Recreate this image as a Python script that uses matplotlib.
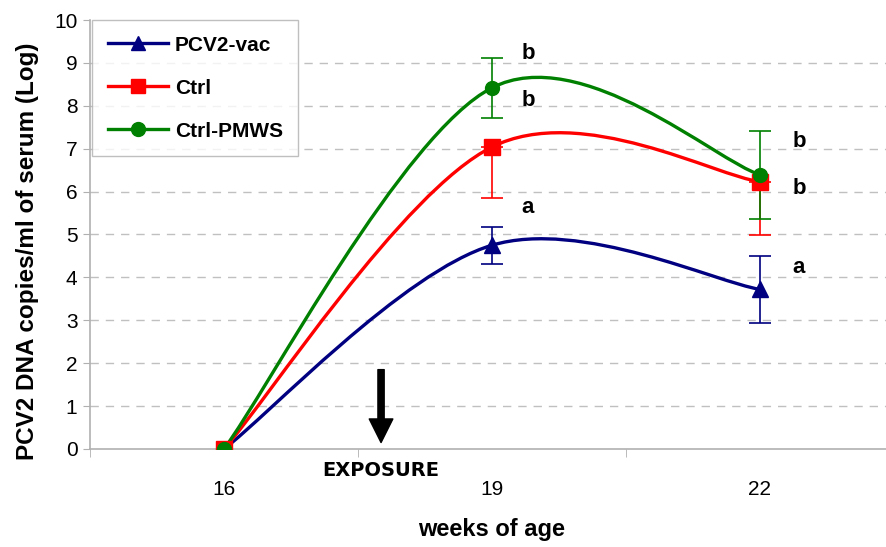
import numpy as np
import matplotlib
matplotlib.use("Agg")
import matplotlib.pyplot as plt
from matplotlib.path import Path
from matplotlib.patches import PathPatch
from matplotlib.lines import Line2D

plt.rcParams['font.family'] = ['Liberation Sans', 'DejaVu Sans']

weeks = ['16', '19', '22']
series = ['PCV2-vac', 'Ctrl', 'Ctrl-PMWS']
vac = [0.0, 4.75, 3.72]
vac_err = [0.0, 0.43, 0.79]
ctrl = [0.0, 7.04, 6.23]
ctrl_err = [0.0, 1.2, 1.24]   # only the lower bar shows in the original
pmws = [0.0, 8.42, 6.39]
pmws_err = [0.0, 0.7, 1.03]

# significance letters next to week 19 and week 22
letters_19 = [('b', 9.23), ('b', 8.13), ('a', 5.62)]
letters_22 = [('b', 7.16), ('b', 6.08), ('a', 4.22)]

colors = ['#000080', '#ff0000', '#008000']
markers = ['^', 's', 'o']


def smooth_path(xs, ys):
    # Excel-like smoothed line: cubic bezier with catmull-rom control points
    pts = np.column_stack([xs, ys]).astype(float)
    n = len(pts)
    verts = [pts[0]]
    codes = [Path.MOVETO]
    for i in range(n - 1):
        p_prev = pts[max(i - 1, 0)]
        p0 = pts[i]
        p1 = pts[i + 1]
        p_next = pts[min(i + 2, n - 1)]
        c1 = p0 + (p1 - p_prev) / 6.0
        c2 = p1 - (p_next - p0) / 6.0
        verts += [c1, c2, p1]
        codes += [Path.CURVE4] * 3
    return Path(verts, codes)


fig = plt.figure(figsize=(8.87, 5.47), dpi=100)
ax = fig.add_axes([90 / 887, 1 - 449 / 547, 804 / 887, 429 / 547])

x = np.arange(len(weeks))
all_vals = [vac, ctrl, pmws]
all_errs = [
    [vac_err[1:], vac_err[1:]],
    [ctrl_err[1:], [0.0] * (len(weeks) - 1)],
    [pmws_err[1:], pmws_err[1:]],
]
for vals, errs, c, m in zip(all_vals, all_errs, colors, markers):
    ax.add_patch(PathPatch(smooth_path(x, vals), facecolor='none', edgecolor=c, lw=2.4, zorder=3))
    ax.errorbar(x[1:], vals[1:], yerr=errs, fmt='none', ecolor=c, elinewidth=1.2,
                capsize=8, capthick=1.2, zorder=4)
    ax.plot(x, vals, linestyle='none', marker=m, color=c, markersize=11 if m != 'o' else 10, zorder=5)

for s, yv in letters_19:
    ax.text(1.11, yv, s, fontsize=16, fontweight='bold', ha='left', va='center')
for s, yv in letters_22:
    ax.text(2.12, yv, s, fontsize=16, fontweight='bold', ha='left', va='center')

# exposure arrow
ax.annotate('', xy=(0.586, 0.15), xytext=(0.586, 1.85),
            arrowprops=dict(facecolor='black', edgecolor='black', width=4.5, headwidth=17, headlength=17))
ax.text(0.586, -0.5, 'EXPOSURE', fontsize=14, fontweight='bold', ha='center', va='center',
        family='DejaVu Sans', clip_on=False)

ax.set_xlim(-0.5, 2.5)
ax.set_ylim(0, 10)
ax.set_yticks(range(0, 11))
ax.set_xticks(x)
ax.set_xticklabels(weeks)
ax.set_xticks([-0.5, 0.5, 1.5, 2.5], minor=True)
ax.tick_params(axis='x', which='major', length=0, labelsize=15, pad=22)
ax.tick_params(axis='x', which='minor', length=6, color='#b0b0b0', direction='out')
ax.tick_params(axis='y', length=5, color='#b0b0b0', labelsize=15, pad=4)

for yv in range(1, 10):
    ax.axhline(yv, color='#c0c0c0', lw=1, ls=(0, (6, 5)), zorder=1)

for side in ['top', 'right']:
    ax.spines[side].set_visible(False)
for side in ['left', 'bottom']:
    ax.spines[side].set_color('#b0b0b0')
    ax.spines[side].set_linewidth(1.2)

ax.set_xlabel('weeks of age', fontsize=17, fontweight='bold', labelpad=14)
ax.set_ylabel('PCV2 DNA copies/ml of serum (Log)', fontsize=17.5, fontweight='bold')
ax.yaxis.set_label_coords(-0.064, 0.46)

handles = [Line2D([], [], color=c, marker=m, lw=2.4, markersize=10) for c, m in zip(colors, markers)]
leg = ax.legend(handles, series, loc='upper left', bbox_to_anchor=(0.003, 1.0), frameon=True,
                fancybox=False, edgecolor='#b0b0b0', prop={'size': 15, 'weight': 'bold'},
                handlelength=2.9, handletextpad=0.3, labelspacing=1.15, borderpad=0.75,
                borderaxespad=0)
leg.get_frame().set_linewidth(1)

fig.savefig('out.png', dpi=100)
